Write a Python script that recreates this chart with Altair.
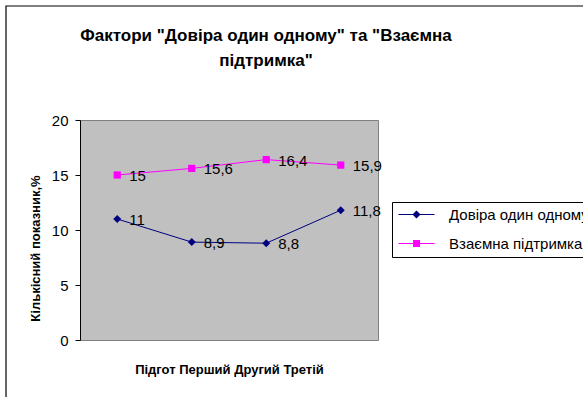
import altair as alt
import pandas as pd

categories = ["Підгот", "Перший", "Другий", "Третій"]
series_names = ["Довіра один одному", "Взаємна підтримка"]
trust = [11, 8.9, 8.8, 11.8]
support = [15, 15.6, 16.4, 15.9]
colors = ["#000080", "#FF00FF"]
y_ticks = [0, 5, 10, 15, 20]

FONT = "Liberation Sans"


def fmt(v):
    s = ("%g" % v)
    return s.replace(".", ",")


rows = []
for name, vals in zip(series_names, [trust, support]):
    for c, v in zip(categories, vals):
        rows.append({"cat": c, "value": v, "series": name, "label": fmt(v)})
df = pd.DataFrame(rows)

x_enc = alt.X("cat:N", sort=categories,
              scale=alt.Scale(type="point", padding=0.5),
              axis=alt.Axis(domain=False, ticks=False, labels=False, grid=False,
                            title=" ".join(categories), titleFont=FONT,
                            titleFontSize=13, titleFontWeight="bold",
                            titleColor="black", titleY=29, titleBaseline="middle"))
y_enc = alt.Y("value:Q", scale=alt.Scale(domain=[0, 20], nice=False),
              axis=alt.Axis(values=y_ticks, grid=False, domainColor="black",
                            tickColor="black", tickSize=5, labelFont=FONT,
                            labelFontSize=15, labelColor="black", labelPadding=7,
                            title="Кількісний показник,%", titleFont=FONT,
                            titleFontSize=13, titleFontWeight="bold",
                            titleColor="black", titleX=-45, titleY=128,
                            titleAngle=270, titleAlign="center",
                            titleBaseline="middle"))

# data layers: series colour through stroke (lines) and fill (markers), no legend
stroke_enc = alt.Stroke("series:N", sort=series_names, scale=alt.Scale(range=colors),
                        legend=None)
fill_enc = alt.Fill("series:N", sort=series_names, scale=alt.Scale(range=colors),
                    legend=None)

base = alt.Chart(df)

lines = base.mark_line(strokeWidth=1).encode(x=x_enc, y=y_enc, stroke=stroke_enc,
                                              detail="series:N")
diamonds = base.transform_filter(alt.datum.series == series_names[0]).mark_point(
    shape="diamond", filled=True, size=64, opacity=1).encode(x=x_enc, y=y_enc, fill=fill_enc)
squares = base.transform_filter(alt.datum.series == series_names[1]).mark_point(
    shape="square", filled=True, size=52, opacity=1).encode(x=x_enc, y=y_enc, fill=fill_enc)
labels = base.mark_text(align="left", baseline="middle", dx=12, dy=1, fontSize=15,
                        font=FONT, color="black").encode(x=x_enc, y=y_enc, text="label:N")

# legend: symbols are a short line with the series marker in its middle
legend_paths = [
    "M-1,-0.1H5V0.1H-1ZM2,-0.67L2.67,0L2,0.67L1.33,0Z",
    "M-1,-0.1H5V0.1H-1ZM1.42,-0.58H2.58V0.58H1.42Z",
]
leg = alt.Legend(title=None, orient="none", legendX=312, legendY=82, symbolSize=144)
legend_layer = base.mark_point(filled=True, opacity=1, size=0).encode(
    x=x_enc, y=y_enc,
    color=alt.Color("series:N", scale=alt.Scale(domain=series_names, range=colors),
                    legend=leg),
    shape=alt.Shape("series:N", scale=alt.Scale(domain=series_names, range=legend_paths),
                    legend=leg),
)

frame = alt.Chart(pd.DataFrame({"a": [0]})).mark_rect(
    fill="transparent", stroke="black", strokeWidth=1.2).encode(
    x=alt.value(-74), x2=alt.value(600), y=alt.value(-114), y2=alt.value(400))

chart = alt.layer(frame, lines, diamonds, squares, labels, legend_layer).properties(
    width=298, height=220,
    background="white",
    autosize=alt.AutoSizeParams(type="none"),
    padding={"left": 80, "top": 120, "right": 205, "bottom": 57},
    title=alt.TitleParams(
        text=['Фактори "Довіра один одному" та "Взаємна', 'підтримка"'],
        font=FONT, fontSize=17, fontWeight="bold", color="black",
        anchor="middle", baseline="middle", dx=37, dy=73, lineHeight=25,
        offset=0, frame="group"),
).configure_view(
    fill="#C0C0C0", stroke="#808080", strokeWidth=1
).configure_legend(
    padding=5, strokeColor="black", fillColor="white",
    symbolSize=144, symbolStrokeWidth=0, labelOffset=37,
    labelFont=FONT, labelFontSize=15, labelColor="black", labelLimit=300,
    rowPadding=13,
)

chart.save("out.html", embed_options={"renderer": "svg", "actions": False})
